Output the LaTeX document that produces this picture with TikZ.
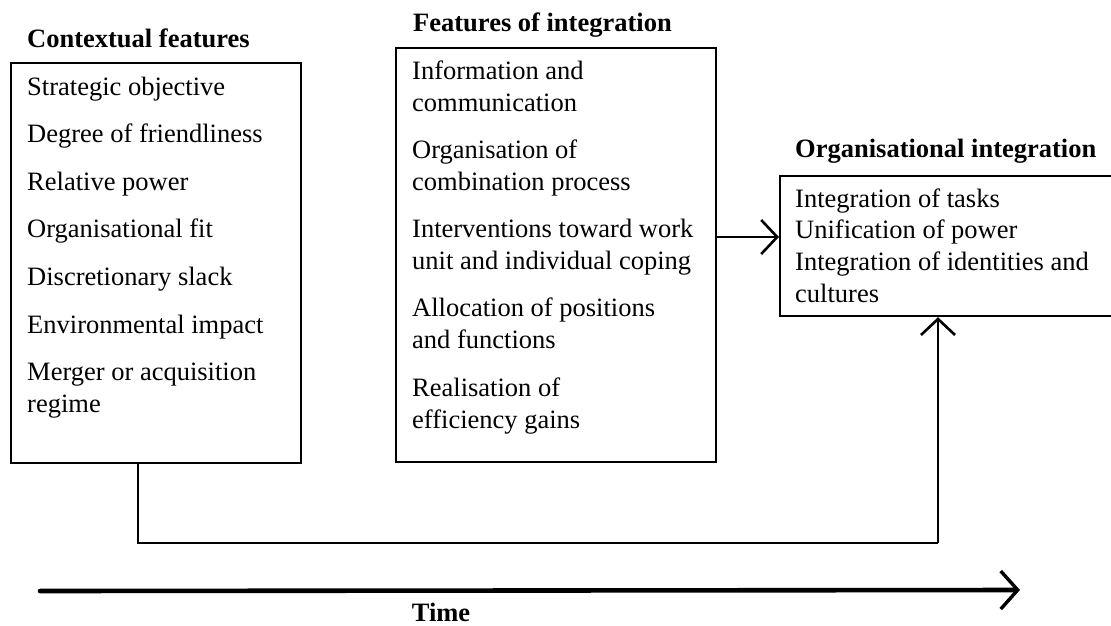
\documentclass[tikz,border=0pt]{standalone}
\usepackage{fontspec}
\setmainfont{Liberation Serif}
\usetikzlibrary{arrows.meta}

\newcommand{\itemfont}{\fontsize{26.5}{32}\selectfont}
\newcommand{\headfont}{\fontsize{26.5}{32}\selectfont\bfseries}

\tikzset{
  panel/.style={draw, line width=2.2pt, inner sep=0pt, anchor=north west},
  item/.style={anchor=base west, inner sep=0pt, font=\itemfont},
  heading/.style={anchor=base west, inner sep=0pt, font=\headfont},
  link/.style={line width=2pt, -{Straight Barb[length=16pt,width=34pt,line width=2.6pt]}},
  timeline/.style={line width=4.6pt, line cap=round,
    -{Straight Barb[length=17pt,width=38pt,line width=3.4pt]}},
}

\begin{document}
\begin{tikzpicture}[x=1pt,y=-1pt]
  \useasboundingbox (0,0) rectangle (1111,625);
  \clip (0,0) rectangle (1111,625);

  % three panels
  \node[panel, minimum width=290pt, minimum height=400pt] (ctx) at (10,62) {};
  \node[panel, minimum width=320pt, minimum height=414pt] (feat) at (395,47) {};
  \node[panel, minimum width=340pt, minimum height=140pt] (org) at (779,175) {};

  % headings
  \node[heading] (hctx)  at (27,47)   {Contextual features};
  \node[heading] (hfeat) at (413,31)  {Features of integration};
  \node[heading] (horg)  at (795,157) {Organisational integration};

  % contextual features
  \node[item] (c1) at (27,95)    {Strategic objective};
  \node[item] (c2) at (27,142.6) {Degree of friendliness};
  \node[item] (c3) at (27,190.2) {Relative power};
  \node[item] (c4) at (27,237.8) {Organisational fit};
  \node[item] (c5) at (27,285.4) {Discretionary slack};
  \node[item] (c6) at (27,333)   {Environmental impact};
  \node[item] (c7) at (27,380.6) {Merger or acquisition};
  \node[item] (c8) at (27,412.6) {regime};

  % features of integration
  \node[item] (f1)  at (412,79)    {Information and};
  \node[item] (f2)  at (412,111)   {communication};
  \node[item] (f3)  at (412,158.3) {Organisation of};
  \node[item] (f4)  at (412,190.3) {combination process};
  \node[item] (f5)  at (412,237.6) {Interventions toward work};
  \node[item] (f6)  at (412,269.6) {unit and individual coping};
  \node[item] (f7)  at (412,316.9) {Allocation of positions};
  \node[item] (f8)  at (412,348.9) {and functions};
  \node[item] (f9)  at (412,396.2) {Realisation of};
  \node[item] (f10) at (412,428.2) {efficiency gains};

  % organisational integration
  \node[item] (o1) at (795,207) {Integration of tasks};
  \node[item] (o2) at (795,238.7) {Unification of power};
  \node[item] (o3) at (795,270.3) {Integration of identities and};
  \node[item] (o4) at (795,302) {cultures};

  % connectors
  \coordinate (level) at (0,237);
  \draw[link] (feat.east |- level) -- (org.west |- level);

  \coordinate (turnA) at (138,543);
  \coordinate (turnB) at (938,543);
  \draw[line width=2pt] (ctx.south -| turnA) -- (turnA) -- (turnB);
  \draw[link] (turnB) -- (org.south -| turnB);

  % time axis
  \coordinate (tstart) at (40,591);
  \coordinate (tend) at (1020,590);
  \draw[timeline] (tstart) -- (tend);
  \node[heading, anchor=base] (time) at (441,621) {Time};
\end{tikzpicture}
\end{document}
